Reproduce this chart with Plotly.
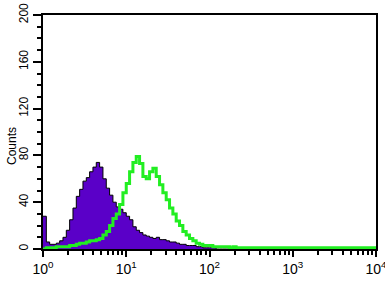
import plotly.graph_objects as go

# log10 bin positions (fluorescence intensity exponent)
log_bins = [round(i * 0.04, 2) for i in range(101)]

purple_counts = [
    28, 6, 4, 4, 5, 7, 10, 16, 25, 35,
    45, 51, 58, 61, 66, 70, 74, 70, 60, 52,
    46, 40, 36, 34, 31, 28, 25, 19, 16, 14,
    12, 11, 10, 9, 10, 8, 8, 7, 6, 6,
    5, 4, 4, 3, 3, 3, 2, 2, 1, 1,
    1, 1, 0, 0, 0, 0, 0, 0, 0, 0,
    0, 0, 0, 0, 0, 0, 0, 0, 0, 0,
    0, 0, 0, 0, 0, 0, 0, 0, 0, 0,
    0, 0, 0, 0, 0, 0, 0, 0, 0, 0,
    0, 0, 0, 0, 0, 0, 0, 0, 0, 0,
    0,
]

green_counts = [
    0, 1, 1, 1, 2, 2, 2, 2, 3, 3,
    4, 5, 5, 6, 7, 7, 8, 9, 12, 15,
    20, 26, 30, 38, 48, 56, 66, 74, 79, 73,
    62, 60, 66, 69, 62, 55, 48, 42, 35, 30,
    24, 20, 15, 12, 9, 7, 5, 4, 3, 3,
    3, 2, 2, 2, 2, 2, 1, 2, 1, 1,
    1, 1, 1, 1, 1, 1, 1, 1, 1, 1,
    1, 1, 1, 1, 1, 1, 1, 1, 1, 1,
    1, 1, 1, 1, 1, 1, 1, 1, 1, 1,
    1, 1, 1, 1, 1, 1, 1, 1, 1, 1,
    1,
]

x_tick_vals = [1, 10, 100, 1000, 10000]
x_tick_text = ["10<sup>0</sup>", "10<sup>1</sup>", "10<sup>2</sup>", "10<sup>3</sup>", "10<sup>4</sup>"]
y_tick_vals = [0, 40, 80, 120, 160, 200]

xs = [10 ** v for v in log_bins]
minor_x = [m * 10 ** k for k in range(4) for m in range(2, 10)]

L, R, T, B = 43, 9, 15, 35
W, H = 385, 284
plot_w = W - L - R

fig = go.Figure()
fig.add_trace(go.Scatter(
    x=xs, y=purple_counts, mode="lines", line_shape="hv",
    line=dict(color="black", width=1), fill="tozeroy", fillcolor="#5a00c8",
    showlegend=False,
))
fig.add_trace(go.Scatter(
    x=xs, y=green_counts, mode="lines", line_shape="hv",
    line=dict(color="#22ee22", width=3),
    showlegend=False,
))

fig.update_layout(
    width=W, height=H,
    margin=dict(l=L, r=R, t=T, b=B, autoexpand=False),
    paper_bgcolor="white", plot_bgcolor="white",
    font=dict(family="Liberation Sans, Arial", color="black"),
    annotations=[dict(
        text="Counts", xref="paper", yref="paper",
        x=(12 - L) / plot_w, y=0.44, textangle=-90,
        showarrow=False, font=dict(size=12), xanchor="center", yanchor="middle",
    )],
)
fig.update_xaxes(
    type="log", range=[0, 4], automargin=False,
    tickvals=x_tick_vals, ticktext=x_tick_text, ticklabeloverflow="allow",
    ticks="outside", ticklen=6, tickwidth=1.5, tickcolor="black",
    minor=dict(tickvals=minor_x, ticks="outside", ticklen=4, tickwidth=1.5, tickcolor="black", showgrid=False),
    showline=True, linecolor="black", linewidth=1.5, mirror=True,
    showgrid=False, zeroline=False,
    tickfont=dict(size=14),
)
fig.update_yaxes(
    range=[0, 200], automargin=False,
    tickvals=y_tick_vals, tickangle=-90,
    ticks="outside", ticklen=8, tickwidth=2, tickcolor="black",
    minor=dict(dtick=10, ticks="outside", ticklen=4, tickwidth=1.5, tickcolor="black", showgrid=False),
    showline=True, linecolor="black", linewidth=1.5, mirror=True,
    showgrid=False, zeroline=False,
    ticklabelstandoff=0,
    tickfont=dict(size=12),
)

fig.write_html(
    "out.html",
    config={"displayModeBar": False},
    post_script="document.body.style.margin='0';document.body.style.padding='0';",
)
